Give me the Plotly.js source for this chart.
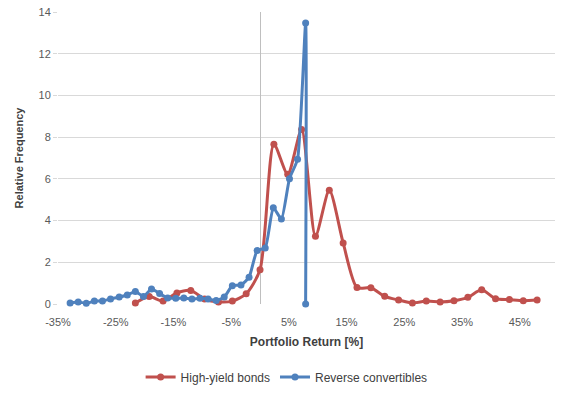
<!DOCTYPE html>
<html>
<head>
<meta charset="utf-8">
<script src="https://cdn.plot.ly/plotly-3.0.1.min.js"></script>
<style>html,body{margin:0;padding:0;background:#fff;}#chart{width:582px;height:397px;}</style>
</head>
<body>
<div id="chart"></div>
<script>
// High-yield bonds (returns in %, relative frequency)
const hyReturns = [-21.6,-19.2,-16.8,-14.4,-12.0,-9.6,-7.2,-4.8,-2.4,0.0,2.4,4.8,7.2,9.6,12.0,14.4,16.8,19.2,21.6,24.0,26.4,28.8,31.2,33.6,36.0,38.4,40.8,43.2,45.6,48.0];
const hyFreq    = [0.05,0.36,0.14,0.53,0.65,0.24,0.10,0.14,0.49,1.64,7.66,6.22,8.37,3.25,5.45,2.93,0.79,0.78,0.37,0.19,0.05,0.14,0.10,0.16,0.32,0.68,0.25,0.21,0.16,0.19];
// Reverse convertibles
const rcReturns = [-32.9,-31.5,-30.1,-28.7,-27.3,-25.9,-24.4,-23.0,-21.6,-20.2,-18.8,-17.4,-16.0,-14.6,-13.2,-11.8,-10.4,-9.0,-7.6,-6.2,-4.8,-3.3,-1.9,-0.5,0.9,2.3,3.7,5.1,6.5,7.9,7.9];
const rcFreq    = [0.05,0.10,0.03,0.14,0.14,0.24,0.33,0.43,0.60,0.36,0.72,0.50,0.29,0.27,0.29,0.24,0.27,0.24,0.17,0.33,0.88,0.91,1.28,2.56,2.69,4.62,4.07,6.01,6.94,13.47,0];

const seriesNames = ["High-yield bonds","Reverse convertibles"];
const xTickVals = [-35,-25,-15,-5,5,15,25,35,45];
const xTickText = ["-35%","-25%","-15%","-5%","5%","15%","25%","35%","45%"];

const font = "Liberation Sans, Arial, sans-serif";
const traces = [
  {x: hyReturns, y: hyFreq, name: seriesNames[0], type: "scatter", mode: "lines+markers",
   line: {color: "#C0504D", width: 3, shape: "spline", smoothing: 0.7},
   marker: {color: "#C0504D", size: 7}, cliponaxis: false},
  {x: rcReturns, y: rcFreq, name: seriesNames[1], type: "scatter", mode: "lines+markers",
   line: {color: "#4F81BD", width: 3, shape: "spline", smoothing: 0.5},
   marker: {color: "#4F81BD", size: 7}, cliponaxis: false}
];
const layout = {
  width: 582, height: 397,
  margin: {l: 58, r: 27, t: 12, b: 93, autoexpand: false},
  paper_bgcolor: "#fff", plot_bgcolor: "#fff",
  font: {family: font, size: 11, color: "#595959"},
  showlegend: true,
  legend: {orientation: "h", x: 0.46, xanchor: "center", y: -0.25, yanchor: "middle",
           font: {family: font, size: 12, color: "#404040"}},
  xaxis: {range: [-35, 51.1], tickvals: xTickVals, ticktext: xTickText,
          showgrid: false, zeroline: true, zerolinecolor: "#BFBFBF", zerolinewidth: 1,
          showline: false, ticks: "outside", ticklen: 8, tickcolor: "rgba(0,0,0,0)",
          tickfont: {size: 11, color: "#595959"},
          title: {text: "<b>Portfolio Return [%]</b>", font: {size: 12, color: "#404040"}, standoff: 10}},
  yaxis: {range: [0, 14], dtick: 2, tick0: 0, showgrid: true, gridcolor: "#D9D9D9", gridwidth: 1,
          zeroline: false, showline: false, ticks: "outside", ticklen: 4, tickcolor: "#D9D9D9",
          tickfont: {size: 11, color: "#595959"},
          title: {text: "<b>Relative Frequency</b>", font: {size: 11, color: "#404040"}, standoff: 12}}
};
Plotly.newPlot("chart", traces, layout, {displayModeBar: false, staticPlot: true});
</script>
</body>
</html>
